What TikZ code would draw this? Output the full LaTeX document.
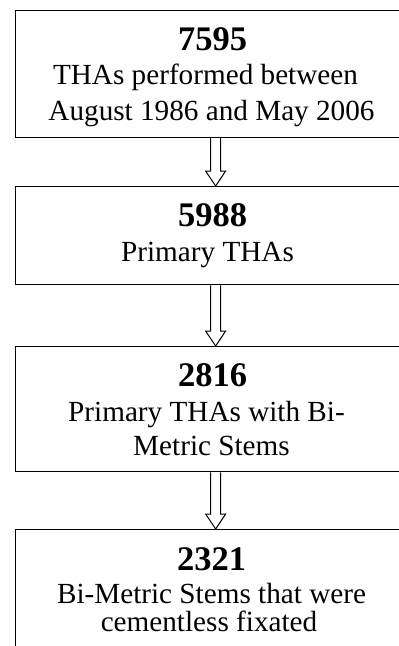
\documentclass[tikz,border=0pt]{standalone}
\usepackage{fontspec}
\setmainfont{Liberation Serif}
\usetikzlibrary{calc}
\tikzset{
  box/.style={draw, line width=1.3pt, rectangle, inner sep=0pt, minimum width=400pt, anchor=north west},
  num/.style={anchor=base, inner sep=0pt, font=\fontsize{34.5}{36}\selectfont\bfseries},
  txt/.style={anchor=base, inner sep=0pt, font=\fontsize{29.2}{32}\selectfont},
  arr/.style={draw, line width=1pt, line join=miter}
}
\newcommand{\hollowarrow}[2]{%
  \draw[arr] ($(#1.south)+(-5pt,0)$) -- ($(#2.north)+(-5pt,15pt)$) -- ($(#2.north)+(-10pt,15pt)$) -- (#2.north) -- ($(#2.north)+(10pt,15pt)$) -- ($(#2.north)+(5pt,15pt)$) -- ($(#1.south)+(5pt,0)$);%
}
\begin{document}
\begin{tikzpicture}[x=1pt,y=1pt]
\useasboundingbox (0,0) rectangle (399,-646);
\clip (0,0) rectangle (399,-646);
\node[box, minimum height=127pt] (b1) at (15,-9.5) {};
\node[box, minimum height=98pt] (b2) at (15,-186) {};
\node[box, minimum height=125pt] (b3) at (15,-346) {};
\node[box, minimum height=140pt] (b4) at (15,-529) {};
\hollowarrow{b1}{b2}
\hollowarrow{b2}{b3}
\hollowarrow{b3}{b4}
\node[num] (n1) at (212.5,-50) {7595};
\node[txt] (t1a) at (205.5,-84.5) {THAs performed between};
\node[txt] (t1b) at (211.5,-120) {August 1986 and May 2006};
\node[num] (n2) at (212.5,-226.7) {5988};
\node[txt] (t2a) at (207.5,-261.7) {Primary THAs};
\node[num] (n3) at (212.5,-386.7) {2816};
\node[txt] (t3a) at (206.5,-421.7) {Primary THAs with Bi-};
\node[txt] (t3b) at (211.5,-455) {Metric Stems};
\node[num] (n4) at (211.5,-570) {2321};
\node[txt] (t4a) at (211.5,-603.3) {Bi-Metric Stems that were};
\node[txt] (t4b) at (209,-631.7) {cementless fixated};
\end{tikzpicture}
\end{document}
